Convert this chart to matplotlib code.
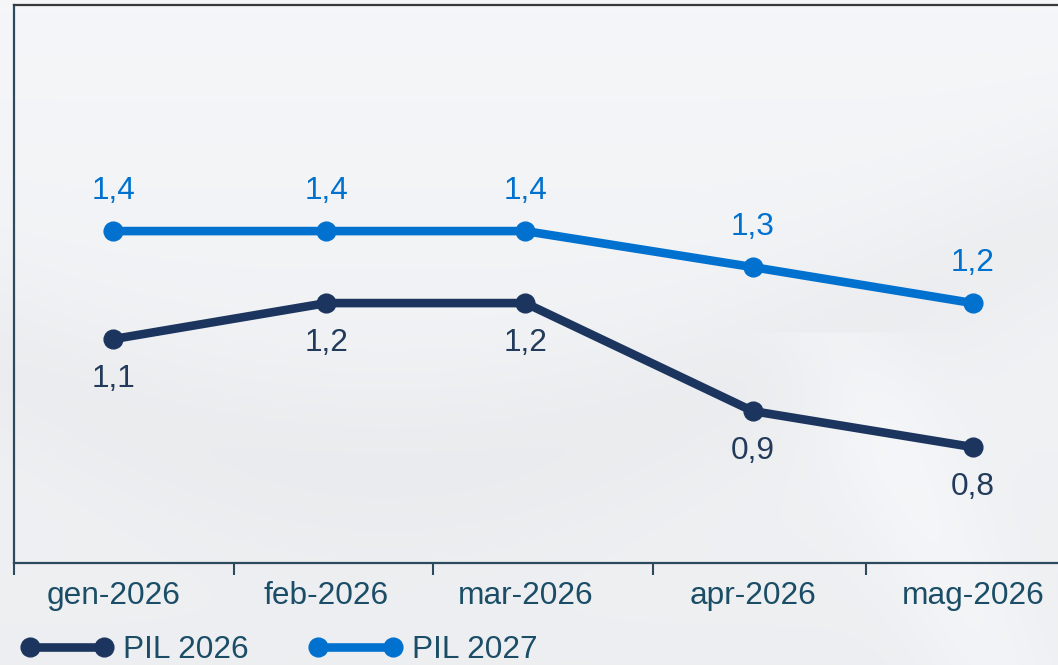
import numpy as np
import matplotlib
matplotlib.use("Agg")
import matplotlib.pyplot as plt

# dati
mesi = ['2026-01-15', '2026-02-14', '2026-03-14', '2026-04-15', '2026-05-16']
etichette = ['gen-2026', 'feb-2026', 'mar-2026', 'apr-2026', 'mag-2026']
pil_2026 = [1.1, 1.2, 1.2, 0.9, 0.8]
pil_2027 = [1.4, 1.4, 1.4, 1.3, 1.2]
inizio_mesi = ['2026-01-01', '2026-02-01', '2026-03-01', '2026-04-01', '2026-05-01']

col_2026 = '#1c355e'
col_2027 = '#0071ce'
col_testo = '#1b4d66'
col_asse = '#2b4a5e'

plt.rcParams['font.family'] = ['Liberation Sans', 'DejaVu Sans']
fs = 22.8

x = np.array(mesi, dtype='datetime64[D]')
ticks = np.array(inizio_mesi, dtype='datetime64[D]')

fig = plt.figure(figsize=(10.58, 6.65), dpi=100)

# sfondo sfumato
bg = fig.add_axes([0, 0, 1, 1], zorder=-10)
yy, xx = np.mgrid[0:1:300j, 0:1:480j]
onda = 0.55 + 0.25 * np.sin(xx * 3.2 + 0.4) - yy
z = 0.975 - 0.03 * yy - 0.02 * np.exp(-((onda - 0.1) ** 2) / 0.02) \
    + 0.02 * np.exp(-((xx - 0.85 - 0.3 * (yy - 0.7)) ** 2) / 0.004) * (yy > 0.5)
z = np.clip(z, 0, 1)
img = np.dstack([z * 0.985, z * 0.99, z * 1.0])
img = np.clip(img, 0, 1)
bg.imshow(img, aspect='auto', extent=[0, 1, 0, 1], origin='upper')
bg.axis('off')

ax = fig.add_axes([14 / 1058, (665 - 563) / 665, 1044 / 1058, 558 / 665])
ax.patch.set_alpha(0)

ax.plot(x, pil_2026, color=col_2026, lw=6.2, marker='o', ms=13.5, label='PIL 2026',
        solid_capstyle='round', zorder=3)
ax.plot(x, pil_2027, color=col_2027, lw=6.2, marker='o', ms=13.5, label='PIL 2027',
        solid_capstyle='round', zorder=3)

for xi, v in zip(x, pil_2026):
    ax.annotate(f'{v:.1f}'.replace('.', ','), (xi, v), xytext=(0, -29),
                textcoords='offset points', ha='center', va='center',
                fontsize=fs, color='#233b5b')
for xi, v in zip(x, pil_2027):
    ax.annotate(f'{v:.1f}'.replace('.', ','), (xi, v), xytext=(0, 29),
                textcoords='offset points', ha='center', va='center',
                fontsize=fs, color=col_2027)

ax.set_xlim(np.datetime64('2026-01-01'), np.datetime64('2026-05-28'))
ax.set_ylim(0.478, 2.028)

ax.set_xticks(ticks)
ax.set_xticklabels([])
ax.tick_params(axis='x', which='major', length=8.6, width=1.5, color=col_asse, direction='out')
ax.set_xticks(x, minor=True)
ax.set_xticklabels(etichette, minor=True)
ax.tick_params(axis='x', which='minor', length=0, pad=13, labelsize=fs, labelcolor=col_testo)
ax.set_yticks([])

for s in ['left', 'bottom']:
    ax.spines[s].set_color(col_asse)
    ax.spines[s].set_linewidth(1.6)
ax.spines['top'].set_color('#3a3a3a')
ax.spines['top'].set_linewidth(1.6)
ax.spines['right'].set_visible(False)

leg = ax.legend(loc='center left', bbox_to_anchor=(20 / 1058, 15 / 665), bbox_transform=fig.transFigure,
                ncol=2, frameon=False, fontsize=fs, numpoints=2, handlelength=2.95,
                handletextpad=0.3, columnspacing=1.9, borderaxespad=0, borderpad=0)
for t in leg.get_texts():
    t.set_color(col_testo)

fig.savefig('out.png', dpi=100)
